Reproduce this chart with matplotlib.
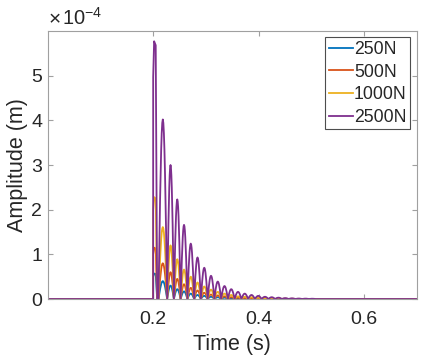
import numpy as np
import matplotlib
matplotlib.use('Agg')
import matplotlib.pyplot as plt

plt.rcParams['font.family'] = ['Liberation Sans', 'DejaVu Sans']
plt.rcParams['mathtext.fontset'] = 'custom'
plt.rcParams['mathtext.rm'] = 'Liberation Sans'
plt.rcParams['mathtext.it'] = 'Liberation Sans'

# legend labels and colours (MATLAB default order)
labels = ['250N', '500N', '1000N', '2500N']
colors = ['#0072BD', '#D95319', '#EDB120', '#7E2F8E']

# initial impact spike: times (s) and amplitudes (x1e-4 m)
spike_t = [0.2, 0.2001, 0.2019, 0.2049, 0.2076]
spike_amp = [
    [0, 0.50, 0.57, 0.56, 0],
    [0, 1.00, 1.15, 1.13, 0],
    [0, 1.99, 2.28, 2.25, 0],
    [0, 4.97, 5.77, 5.68, 0],
]

# rebound arches: zero crossings (s) and arch heights (x1e-4 m)
edges = [0.2101, 0.2266, 0.2394, 0.2522, 0.2650, 0.2778, 0.2906, 0.3034,
         0.3162, 0.3290, 0.3418, 0.3546, 0.3674, 0.3802, 0.3930, 0.4058,
         0.4186, 0.4314, 0.4442, 0.4570, 0.4698, 0.4826, 0.4954, 0.5082]
peaks_250 = [0.40, 0.30, 0.22, 0.17, 0.12, 0.09, 0.07, 0.05, 0.04, 0.03, 0.02, 0.016,
             0.012, 0.009, 0.007, 0.005, 0.004, 0.003, 0.002, 0.0015, 0.001, 0.001, 0.0005]
peaks_500 = [0.80, 0.60, 0.45, 0.33, 0.25, 0.19, 0.14, 0.10, 0.08, 0.06, 0.04, 0.03,
             0.024, 0.018, 0.014, 0.01, 0.008, 0.006, 0.004, 0.003, 0.002, 0.002, 0.001]
peaks_1000 = [1.61, 1.20, 0.89, 0.66, 0.50, 0.37, 0.28, 0.21, 0.16, 0.12, 0.09, 0.06,
              0.05, 0.04, 0.03, 0.02, 0.016, 0.012, 0.008, 0.006, 0.004, 0.003, 0.002]
peaks_2500 = [4.02, 3.00, 2.23, 1.66, 1.24, 0.93, 0.70, 0.52, 0.39, 0.29, 0.22, 0.16,
              0.12, 0.09, 0.07, 0.05, 0.04, 0.03, 0.02, 0.015, 0.01, 0.008, 0.006]
all_peaks = [peaks_250, peaks_500, peaks_1000, peaks_2500]

t_start, t_end = 0.0, 0.7


def build_curve(sp, pk):
    t = [t_start]
    y = [0.0]
    t += spike_t
    y += sp
    u = np.linspace(0, 1, 17)
    for k in range(len(pk)):
        t += list(edges[k] + u * (edges[k + 1] - edges[k]))
        y += list(pk[k] * np.sin(np.pi * u))
    t.append(t_end)
    y.append(0.0)
    return np.array(t), np.array(y)


fig = plt.figure(figsize=(4.23, 3.58), dpi=100)
ax = fig.add_axes([47.7 / 423, 59 / 358, 369 / 423, 268 / 358])

for i in range(4):
    t, y = build_curve(spike_amp[i], all_peaks[i])
    ax.plot(t, y, color=colors[i], lw=1.3, label=labels[i])

ax.set_xlim(t_start, t_end)
ax.set_ylim(0, 6.0)
ax.set_xticks([0.2, 0.4, 0.6])
ax.set_xticklabels(['0.2', '0.4', '0.6'])
ax.set_yticks([0, 1, 2, 3, 4, 5])

edge = '#a0a0a0'
for s in ax.spines.values():
    s.set_color(edge)
    s.set_linewidth(0.8)
ax.tick_params(direction='in', length=3.5, width=0.8, color=edge,
               top=True, right=True, labelsize=14, labelcolor='#262626')
ax.tick_params(axis='x', pad=9)
ax.tick_params(axis='y', pad=4)

ax.set_xlabel('Time (s)', fontsize=15.5, color='#262626', labelpad=4)
ax.set_ylabel('Amplitude (m)', fontsize=15.5, color='#262626', labelpad=2)

# MATLAB-style exponent label above the y axis
fig.text(49 / 423, 1 - 25 / 358, '\u00d7', fontsize=15, color='#262626',
         va='baseline', ha='left')
fig.text(62 / 423, 1 - 25 / 358, r'10$^{-4}$', fontsize=14.5,
         color='#262626', va='baseline', ha='left')

leg = ax.legend(loc='upper right', fontsize=12.7,
                fancybox=False, framealpha=1, edgecolor='#4d4d4d',
                handlelength=1.36, handletextpad=0.08, borderpad=0.2,
                labelspacing=0.32, borderaxespad=0.36)
leg.get_frame().set_linewidth(0.8)
for txt in leg.get_texts():
    txt.set_color('#262626')

fig.savefig('out.png', dpi=100)
